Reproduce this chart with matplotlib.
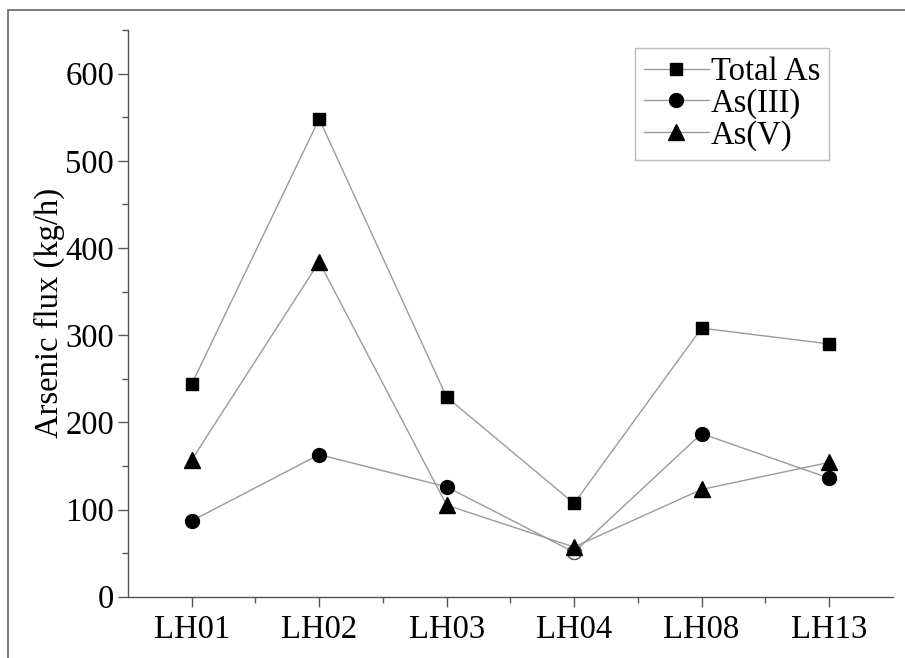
import matplotlib
matplotlib.use("Agg")
import matplotlib.pyplot as plt
from matplotlib.patches import Rectangle

sites = ["LH01", "LH02", "LH03", "LH04", "LH08", "LH13"]
total_as = [244, 548, 229, 107, 308, 290]
as_iii = [87, 163, 126, 51, 187, 136]
as_v = [157, 384, 105, 57, 123, 154]
yticks = [0, 100, 200, 300, 400, 500, 600]

plt.rcParams['font.family'] = ['Liberation Serif', 'DejaVu Serif']
W, H = 905, 658
fs = 23.5
fig = plt.figure(figsize=(W / 100, H / 100), dpi=100)
ax = fig.add_axes([128 / W, 1 - 596.7 / H, (892.7 - 128) / W, (596.7 - 30) / H])

x = list(range(1, len(sites) + 1))
lc = '#9a9a9a'
ax.plot(x, total_as, color=lc, lw=1.0, marker='s', ms=8, mfc='black', mec='black', label='Total As', zorder=3)
ax.plot(x, as_iii, color=lc, lw=1.0, marker='o', ms=10, mfc='black', mec='black', label='As(III)', zorder=3)
# open circle at LH04 (index 3)
ax.plot(x, as_iii, ls='none', marker='o', ms=10, mfc='white', mec='#555555', mew=0.8, markevery=[3], zorder=3.5)
ax.plot(x, as_v, color=lc, lw=1.0, marker='^', ms=11, mfc='black', mec='black', label='As(V)', zorder=4)

ax.set_xlim(0.5, len(sites) + 0.5)
ax.set_ylim(0, 650)
ax.set_xticks(x)
ax.set_xticklabels(sites)
ax.set_xticks([i + 0.5 for i in x[:-1]], minor=True)
ax.set_yticks(yticks)
ax.set_yticks([v + 50 for v in yticks], minor=True)

for s in ['top', 'right']:
    ax.spines[s].set_visible(False)
for s in ['left', 'bottom']:
    ax.spines[s].set_color('#555555')
    ax.spines[s].set_linewidth(1.0)

ax.tick_params(axis='both', which='major', direction='out', length=7, width=1.0, color='#555555', labelsize=fs, pad=3)
ax.tick_params(axis='both', which='minor', direction='out', length=4, width=1.0, color='#555555')
ax.tick_params(axis='x', which='major', pad=6)

ax.set_ylabel('Arsenic flux (kg/h)', fontsize=fs, labelpad=0)

leg = ax.legend(loc='upper left', bbox_to_anchor=((635 - 128) / (892.7 - 128), (596.7 - 48) / (596.7 - 30)),
                fontsize=fs, frameon=True, fancybox=False, handlelength=2.0, handletextpad=0.05,
                borderpad=0.27, labelspacing=0.03, borderaxespad=0)
leg.get_frame().set_edgecolor('#aaaaaa')
leg.get_frame().set_linewidth(1.0)

fig.patches.append(Rectangle((8 / W, -0.1), 1.2, (H - 10) / H + 0.1, transform=fig.transFigure,
                             fill=False, edgecolor='#666666', lw=1.2, zorder=0))

fig.savefig('out.png', dpi=100)
